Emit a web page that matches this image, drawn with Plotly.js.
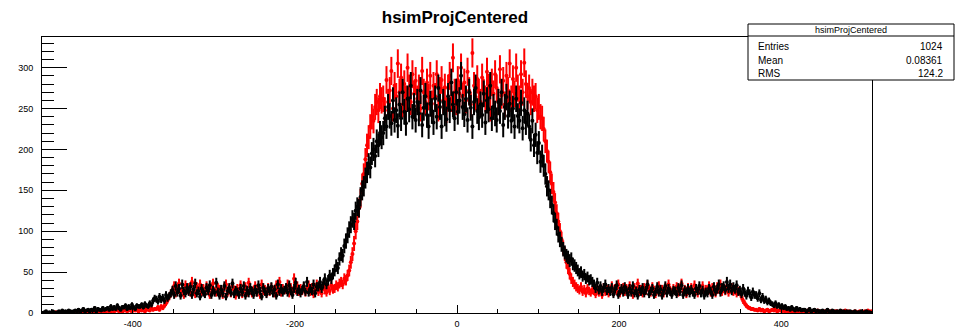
<!DOCTYPE html>
<html>
<head>
<meta charset="utf-8">
<script src="https://cdn.plot.ly/plotly-3.0.1.min.js"></script>
<style>
html,body{margin:0;padding:0;background:#fff;}
#chart{width:956px;height:328px;}
</style>
</head>
<body>
<div id="chart"></div>
<script>
// Histogram binning (values sampled every 2 units, centers -511 .. 511)
var binFirstCenter = -511;
var binStep = 2;

// Black histogram (drawn on top), one line = 10 bins = 20 units
var blackCounts = [
 0,1,2,0,1,0,2,1,0,1,
 2,1,3,0,2,1,3,2,1,2,
 3,2,4,1,3,5,2,3,4,2,
 4,3,6,2,5,4,3,6,4,5,
 6,4,8,5,7,5,9,6,4,7,
 7,9,5,8,6,10,7,5,9,8,
 8,10,7,11,9,8,12,10,15,18,
 17,14,20,16,19,15,22,18,21,24,
 28,22,33,25,30,21,35,27,24,31,
 26,32,22,29,36,24,27,20,30,25,
 23,31,27,34,22,28,25,37,26,21,
 29,24,33,20,27,31,25,36,23,28,
 26,22,30,25,33,21,28,24,31,27,
 22,29,25,34,27,20,31,26,23,30,
 27,32,24,29,21,35,26,30,25,28,
 31,25,34,27,22,30,37,26,29,24,
 28,33,26,38,25,30,27,35,24,32,
 32,38,30,36,42,35,40,46,42,48,
 52,58,55,66,72,70,82,88,95,102,
 108,115,112,125,130,128,142,150,155,165,
 172,182,178,195,200,192,210,205,220,215,
 220,238,228,252,241,232,260,236,248,229,
 255,238,270,246,232,262,249,278,240,253,
 236,258,244,272,230,251,265,242,228,256,
 247,233,262,240,275,252,228,258,244,237,
 265,248,282,255,238,270,246,260,290,252,
 243,262,236,270,251,228,258,275,247,239,
 255,242,268,233,260,249,278,238,252,244,
 236,258,247,270,230,252,264,241,256,235,
 250,228,262,241,235,257,226,248,233,244,
 228,212,235,205,218,196,208,185,192,180,
 170,155,150,140,132,122,112,105,96,90,
 84,78,74,70,68,64,66,60,58,55,
 52,48,50,45,47,42,44,40,41,38,
 35,30,37,28,33,26,31,35,27,30,
 26,31,23,29,34,22,27,30,25,32,
 28,22,30,25,33,24,27,21,29,26,
 31,24,28,35,23,27,30,22,26,32,
 25,29,21,27,33,24,30,26,22,28,
 27,23,31,26,34,22,28,25,30,24,
 29,25,22,30,27,33,24,28,21,26,
 24,30,27,22,32,26,29,35,25,31,
 33,28,38,30,35,27,32,29,34,26,
 28,23,30,25,21,27,24,19,26,22,
 22,18,24,16,20,15,17,13,15,12,
 11,9,12,8,10,7,9,6,8,5,
 6,4,7,5,3,6,4,5,3,4,
 4,2,3,5,2,3,4,2,3,2,
 2,3,1,2,4,2,1,3,2,1,
 2,1,3,1,2,0,2,1,2,1,
 1,2,0,1,1,2,0,1,2,1,
 1,0
];

// Red histogram
var redCounts = [
 0,0,0,0,0,0,0,0,1,0,
 0,0,1,0,0,0,1,0,0,1,
 1,0,1,2,0,1,0,2,1,1,
 2,1,3,1,2,0,2,3,1,2,
 3,2,1,4,2,3,5,2,3,1,
 3,4,2,5,3,2,4,3,5,2,
 4,3,6,2,5,4,3,6,4,5,
 5,7,4,8,6,9,12,16,20,24,
 27,33,24,30,36,25,29,22,34,28,
 31,25,38,27,23,32,28,35,26,30,
 24,33,28,22,30,36,27,25,31,29,
 27,22,31,35,25,29,24,33,28,21,
 30,26,34,23,28,32,25,37,27,24,
 28,33,25,30,22,35,27,29,24,31,
 26,31,28,24,34,27,38,25,30,28,
 29,35,24,31,27,42,28,33,26,30,
 27,32,25,29,34,26,31,23,28,35,
 26,30,24,33,28,25,31,27,34,29,
 30,34,32,36,38,35,42,40,46,52,
 62,72,85,100,112,128,140,158,170,188,
 205,215,228,240,235,252,258,248,265,260,
 262,248,285,258,272,296,250,278,265,305,
 270,288,255,280,262,300,275,258,292,268,
 284,262,275,250,296,270,258,282,264,290,
 256,278,265,292,250,272,285,260,276,248,
 275,290,262,312,270,258,285,268,300,265,
 282,260,295,272,255,318,278,264,286,270,
 258,288,270,262,295,276,250,282,268,292,
 275,258,298,266,284,255,290,272,305,262,
 286,268,300,275,262,292,270,306,280,265,
 275,258,270,262,265,248,252,240,238,225,
 210,198,185,172,158,148,135,122,112,100,
 90,80,72,62,55,48,42,38,35,32,
 30,28,32,26,29,24,30,27,25,28,
 27,23,30,25,28,22,31,26,29,24,
 28,33,25,30,27,35,24,29,31,26,
 30,25,33,27,22,31,28,36,26,29,
 24,31,27,34,29,25,32,28,23,30,
 33,26,29,24,31,27,35,28,25,30,
 27,32,25,30,36,26,29,23,31,28,
 31,26,34,28,24,30,27,33,26,29,
 28,33,25,31,27,24,32,29,35,26,
 30,27,33,25,29,31,26,28,24,27,
 26,20,15,12,9,7,6,5,5,4,
 4,3,5,3,4,2,3,4,2,3,
 4,3,5,2,3,4,2,3,2,3,
 2,3,1,2,3,2,1,2,3,2,
 2,1,3,2,1,2,2,1,3,2,
 1,2,2,1,3,1,2,2,1,2,
 2,1,1,2,1,3,1,2,1,1,
 1,2,1,1,2,1,1,2,1,3,
 1,2
];

var histTitle = "hsimProjCentered";
var statLabels = ["Entries", "Mean", "RMS"];
var statValues = ["1024", "0.08361", "124.2"];
var xTickVals = [-400, -200, 0, 200, 400];
var yTickVals = [0, 50, 100, 150, 200, 250, 300];

function trace(counts, color){
  var xs = counts.map(function(_, i){ return binFirstCenter + binStep * i; });
  return {
    type: 'scatter', mode: 'markers',
    x: xs, y: counts,
    marker: {color: color, size: 4, symbol: 'circle'},
    error_y: {type: 'data', array: counts.map(function(v){ return Math.sqrt(v); }), color: color, thickness: 2, width: 0},
    error_x: {type: 'constant', value: binStep / 2, color: color, thickness: 2, width: 0},
    hoverinfo: 'x+y', showlegend: false, cliponaxis: true
  };
}

var W = 956, H = 328;
var L = 42, R = 872, T = 37, B = 313;
function px2paperX(px){ return (px - L) / (R - L); }
function px2paperY(py){ return (B - py) / (B - T); }

var font = 'Liberation Sans, Arial, Helvetica, sans-serif';

var annotations = [
  {text: histTitle, xref: 'paper', yref: 'paper', x: px2paperX(851), y: px2paperY(30), xanchor: 'center', yanchor: 'middle', showarrow: false, font: {family: font, size: 9, color: '#000'}}
];
var rowsY = [46, 60, 73];
statLabels.forEach(function(lab, i){
  annotations.push({text: lab, xref: 'paper', yref: 'paper', x: px2paperX(756), y: px2paperY(rowsY[i]), xanchor: 'left', yanchor: 'middle', showarrow: false, font: {family: font, size: 10, color: '#000'}});
  annotations.push({text: statValues[i], xref: 'paper', yref: 'paper', x: px2paperX(945), y: px2paperY(rowsY[i]), xanchor: 'right', yanchor: 'middle', showarrow: false, font: {family: font, size: 10, color: '#000'}});
});

var layout = {
  width: W, height: H,
  margin: {l: L, r: W - R, t: T, b: H - B, pad: 0},
  paper_bgcolor: '#fff', plot_bgcolor: '#fff',
  font: {family: font, size: 9, color: '#000'},
  title: {text: '<b>' + histTitle + '</b>', x: 455 / W, xanchor: 'center', xref: 'container', y: 1 - 17 / H, yanchor: 'middle', yref: 'container', font: {family: font, size: 17, color: '#000'}},
  xaxis: {
    range: [-512, 512], showgrid: false, zeroline: false,
    showline: true, linecolor: '#000', linewidth: 1, mirror: true,
    ticks: 'inside', ticklen: 8, tickwidth: 1, tickcolor: '#000',
    tickvals: xTickVals, ticktext: xTickVals.map(String),
    tickfont: {family: font, size: 9, color: '#000'},
    ticklabelstandoff: 2,
    minor: {dtick: 50, tick0: 0, ticks: 'inside', ticklen: 4, tickcolor: '#000', tickwidth: 1, showgrid: false}
  },
  yaxis: {
    range: [0, 337.5], showgrid: false, zeroline: false,
    showline: true, linecolor: '#000', linewidth: 1, mirror: true,
    ticks: 'inside', ticklen: 25, tickwidth: 1, tickcolor: '#000',
    tickvals: yTickVals, ticktext: yTickVals.map(String),
    tickfont: {family: font, size: 9, color: '#000'},
    ticklabelstandoff: 6,
    minor: {dtick: 10, tick0: 0, ticks: 'inside', ticklen: 12, tickcolor: '#000', tickwidth: 1, showgrid: false}
  },
  shapes: [
    {type: 'rect', xref: 'paper', yref: 'paper', x0: px2paperX(748), x1: px2paperX(954), y0: px2paperY(80), y1: px2paperY(24), fillcolor: '#fff', line: {color: '#000', width: 1}, layer: 'above'},
    {type: 'line', xref: 'paper', yref: 'paper', x0: px2paperX(748), x1: px2paperX(954), y0: px2paperY(36), y1: px2paperY(36), line: {color: '#000', width: 1}, layer: 'above'}
  ],
  annotations: annotations
};

Plotly.newPlot('chart', [trace(redCounts, '#ff0000'), trace(blackCounts, '#000000')], layout, {displayModeBar: false, staticPlot: true});
</script>
</body>
</html>
